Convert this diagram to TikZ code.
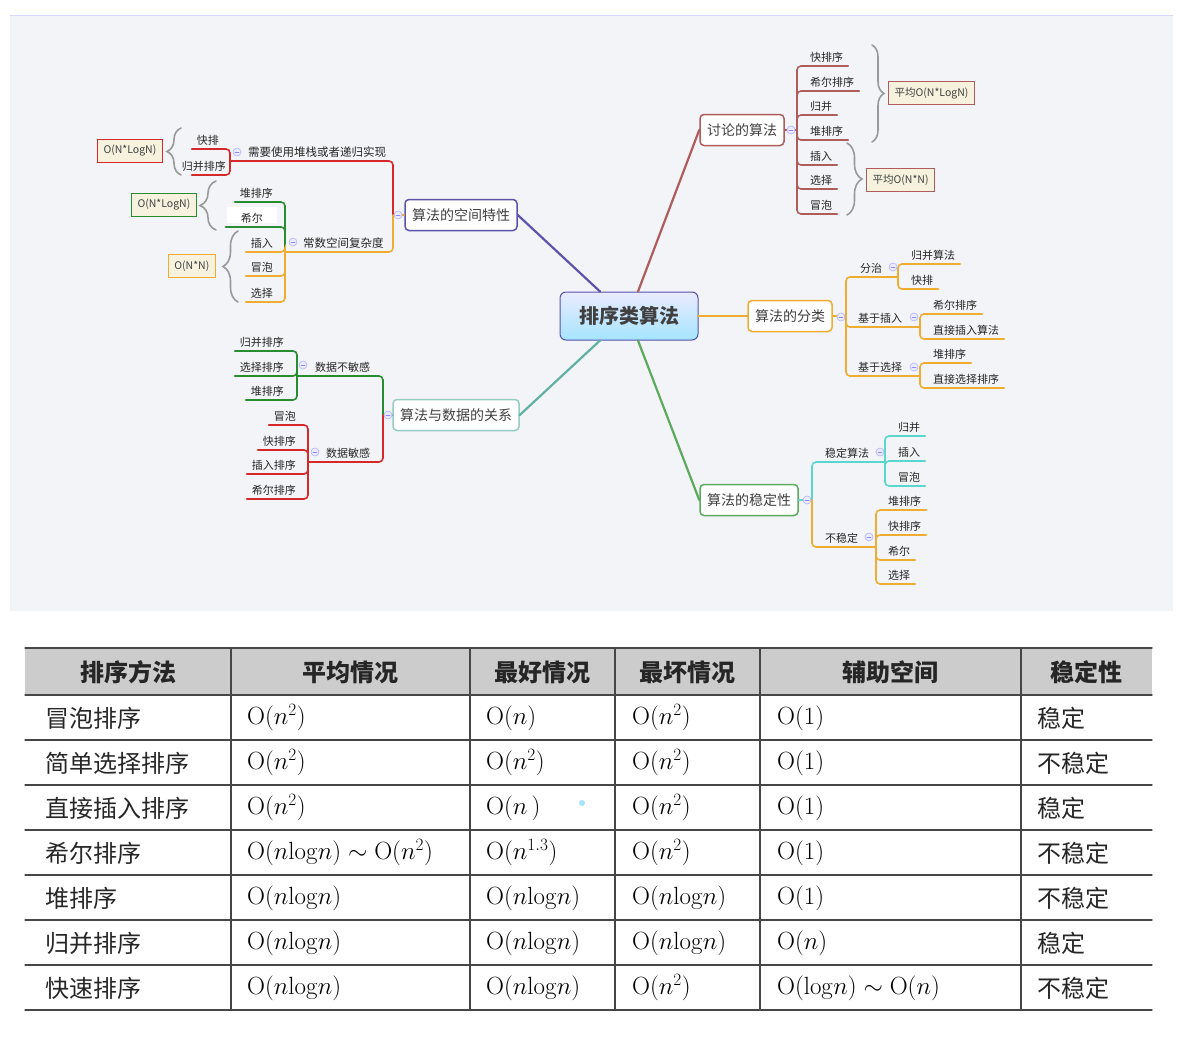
\documentclass[tikz,border=0pt]{standalone}
\usepackage[no-math]{fontspec}
\setmainfont{Noto Sans CJK SC}
\newfontfamily\cjk{Noto Sans CJK SC}
\usetikzlibrary{positioning,decorations.pathreplacing}
\definecolor{bgc}{RGB}{243,244,248}
\definecolor{brn}{RGB}{176,92,92}
\definecolor{purp}{RGB}{92,84,172}
\definecolor{mred}{RGB}{214,40,40}
\definecolor{morg}{RGB}{240,172,48}
\definecolor{dgrn}{RGB}{40,140,48}
\definecolor{tealA}{RGB}{96,176,164}
\definecolor{tealB}{RGB}{150,205,195}
\definecolor{lgrn}{RGB}{92,170,92}
\definecolor{cyn}{RGB}{90,215,205}
\definecolor{beige}{RGB}{246,242,222}
\definecolor{hdr}{RGB}{204,204,204}
\definecolor{grid}{RGB}{70,70,70}
\newcommand\OO{\mathrm{O}}
\tikzset{
  rootbox/.style={draw=blue!35!gray, rounded corners=6pt, line width=1pt, top color=blue!8, bottom color=blue!30!cyan!35, minimum width=138pt, minimum height=48pt, font=\cjk\bfseries\fontsize{20}{20}\selectfont, text=black!75},
  topic/.style={draw, rounded corners=4pt, line width=1.5pt, fill=white, font=\cjk\fontsize{14}{14}\selectfont, text=black!75, minimum height=31pt, inner xsep=7pt},
  leaf/.style={font=\cjk\fontsize{11}{11}\selectfont, text=black!85, inner xsep=0pt, inner ysep=3.5pt, text height=9pt, text depth=1pt},
  sub/.style={leaf, font=\cjk\fontsize{11.5}{12}\selectfont},
  note/.style={draw, line width=1.3pt, fill=beige, font=\cjk\fontsize{10.5}{11}\selectfont, text=black!75, inner xsep=6pt, inner ysep=2pt, minimum height=23pt},
  fold/.style={circle, draw=blue!30, fill=blue!8, line width=0.6pt, minimum size=8pt, inner sep=0pt, path picture={\draw[blue!45, line width=0.8pt] ([xshift=-2pt]path picture bounding box.center) -- ([xshift=2pt]path picture bounding box.center);}},
  br/.style={rounded corners=4pt, line width=1.6pt},
  brc/.style={decorate, decoration={brace, amplitude=#1}, draw=gray!80, line width=1.6pt},
  cell/.style={anchor=west, inner sep=0pt, font=\fontsize{25}{25}\selectfont},
  zh/.style={anchor=west, inner sep=0pt, font=\cjk\fontsize{24}{24}\selectfont, text=black!85},
  th/.style={inner sep=0pt, font=\cjk\bfseries\fontsize{24}{24}\selectfont, text=black!85}
}
\begin{document}
\begin{tikzpicture}[x=1pt, y=-1pt, line cap=round]
\useasboundingbox (0,0) rectangle (1179,1044);
% 思维导图背景
\fill[bgc] (10,15) rectangle (1173,611);
\draw[blue!15, line width=0.8pt] (10,15) -- (1173,15);

% 中心主题与一级分支
\node[rootbox] (root) at (629,316) {排序类算法};
\node[topic, draw=brn] (talg) at (742,130) {讨论的算法};
\node[topic, draw=purp] (space) at (461,215) {算法的空间特性};
\node[topic, draw=tealB] (rel) at (456,415) {算法与数据的关系};
\node[topic, draw=morg] (cls) at (790,316) {算法的分类};
\node[topic, draw=lgrn] (stb) at (749,500) {算法的稳定性};

\draw[brn, line width=2.2pt] ([xshift=9pt]root.north) -- (talg.west);
\draw[purp, line width=2.2pt] ([xshift=-29pt]root.north) -- (space.east);
\draw[tealA, line width=2.2pt] ([xshift=-29pt]root.south) -- (rel.east);
\draw[lgrn, line width=2.2pt] ([xshift=9pt]root.south) -- (stb.west);
\draw[morg, line width=2.6pt] (root.east) -- (cls.west);

% 分叉点
\coordinate (jtl) at (797,130);
\coordinate (jsp) at (393,215);
\coordinate (jrq) at (230,161);
\coordinate (jcs) at (285,252);
\coordinate (jrl) at (383,415);
\coordinate (jbm) at (297,376);
\coordinate (jmg) at (308,462);
\coordinate (jcl) at (846,316);
\coordinate (jfz) at (898,277);
\coordinate (jcr) at (920,327);
\coordinate (jxz) at (920,376);
\coordinate (jst) at (812,500);
\coordinate (jwd) at (885,462);
\coordinate (jbw) at (876,547);

% 讨论的算法
\draw[br, brn] (talg.east) -- (jtl);
\foreach \t/\y [count=\i] in {快排序/66, 希尔排序/91, 归并/115, 堆排序/140, 插入/165, 选择/189, 冒泡/214} {
  \node[leaf, anchor=south west] (tl\i) at (810,\y) {\t};
  \draw[br, brn] (jtl) |- ([xshift=5pt]tl\i.south east);
}
\draw[brc=12pt] (872,45) -- (872,142);
\node[note, draw=brn, anchor=west] (avg1) at (888,93) {平均O(N*LogN)};
\draw[brc=15pt] (847,143) -- (847,215);
\node[note, draw=brn, anchor=west] (avg2) at (866,180) {平均O(N*N)};

% 算法的空间特性
\draw[br, morg] (space.west) -- (jsp);
\draw[br, mred] (jsp) |- (jrq);
\draw[br, morg] (jsp) |- (jcs);
\node[sub, anchor=south west] (stk) at (248,161) {需要使用堆栈或者递归实现};
\node[sub, anchor=south west] (cst) at (303,252) {常数空间复杂度};
\foreach \t/\x/\y/\e [count=\i] in {快排/219/149/-5, 归并排序/226/175/10} {
  \node[leaf, anchor=south east] (sr\i) at (\x,\y) {\t};
  \draw[br, mred] (jrq) |- ([xshift=\e pt]sr\i.south west);
}
\draw[brc=14pt] (181,175) -- (181,128);
\node[note, draw=mred, anchor=east] (cx1) at (163,151) {O(N*LogN)};
\fill[white] (227,207) rectangle (277,223);
\foreach \t/\x/\y/\e/\c [count=\i] in {堆排序/273/202/-5/dgrn, 希尔/263/227/-15/dgrn, 插入/273/252/-5/morg, 冒泡/273/276/-5/morg, 选择/273/302/-5/morg} {
  \node[leaf, anchor=south east] (cs\i) at (\x,\y) {\t};
  \draw[br, \c] (jcs) |- ([xshift=\e pt]cs\i.south west);
}
\draw[brc=16pt] (216,230) -- (216,181);
\node[note, draw=dgrn, anchor=east] (cx2) at (197,205) {O(N*LogN)};
\draw[brc=15pt] (238,302) -- (238,231);
\node[note, draw=morg, anchor=east] (cx3) at (216,266) {O(N*N)};

% 算法与数据的关系
\draw[br, tealA] (rel.west) -- (jrl);
\draw[br, dgrn] (jrl) |- (jbm);
\draw[br, mred] (jrl) |- (jmg);
\node[leaf, anchor=south west] (bmg) at (315,376) {数据不敏感};
\node[leaf, anchor=south west] (mg) at (326,462) {数据敏感};
\foreach \t/\y [count=\i] in {归并排序/351, 选择排序/376, 堆排序/400} {
  \node[leaf, anchor=south east] (bm\i) at (284,\y) {\t};
  \draw[br, dgrn] (jbm) |- ([xshift=-5pt]bm\i.south west);
}
\foreach \t/\y [count=\i] in {冒泡/425, 快排序/450, 插入排序/474, 希尔排序/499} {
  \node[leaf, anchor=south east] (mg\i) at (296,\y) {\t};
  \draw[br, mred] (jmg) |- ([xshift=-5pt]mg\i.south west);
}

% 算法的分类
\draw[br, morg] (cls.east) -- (jcl);
\draw[br, morg] (jcl) |- (jfz);
\draw[br, morg] (jcl) |- (jcr);
\draw[br, morg] (jcl) |- (jxz);
\node[leaf, anchor=south west] (fz) at (860,277) {分治};
\node[leaf, anchor=south west] (cr) at (858,327) {基于插入};
\node[leaf, anchor=south west] (xz) at (858,376) {基于选择};
\foreach \t/\y [count=\i] in {归并算法/264, 快排/289} {
  \node[leaf, anchor=south west] (fz\i) at (911,\y) {\t};
  \draw[br, morg] (jfz) |- ([xshift=5pt]fz\i.south east);
}
\foreach \t/\y [count=\i] in {希尔排序/314, 直接插入算法/339} {
  \node[leaf, anchor=south west] (cr\i) at (933,\y) {\t};
  \draw[br, morg] (jcr) |- ([xshift=5pt]cr\i.south east);
}
\foreach \t/\y [count=\i] in {堆排序/363, 直接选择排序/388} {
  \node[leaf, anchor=south west] (xz\i) at (933,\y) {\t};
  \draw[br, morg] (jxz) |- ([xshift=5pt]xz\i.south east);
}

% 算法的稳定性
\draw[br, cyn] (stb.east) -- (jst);
\draw[br, cyn] (jst) |- (jwd);
\draw[br, morg] (jst) |- (jbw);
\node[leaf, anchor=south west] (wd) at (825,462) {稳定算法};
\node[leaf, anchor=south west] (bw) at (825,547) {不稳定};
\foreach \t/\y [count=\i] in {归并/436, 插入/461, 冒泡/486} {
  \node[leaf, anchor=south west] (wd\i) at (898,\y) {\t};
  \draw[br, cyn] (jwd) |- ([xshift=5pt]wd\i.south east);
}
\foreach \t/\y [count=\i] in {堆排序/510, 快排序/535, 希尔/560, 选择/584} {
  \node[leaf, anchor=south west] (bw\i) at (888,\y) {\t};
  \draw[br, morg] (jbw) |- ([xshift=5pt]bw\i.south east);
}

% 折叠按钮
\foreach \p [count=\i] in {(791,130), (398,215), (237,152), (293,242), (388,415), (303,365), (315,452), (841,317), (893,267), (914,317), (914,367), (807,500), (880,452), (869,537)}
  \node[fold] (f\i) at \p {};

% 表格
\fill[hdr] (25,648) rectangle (1152,695);
\foreach \y in {648,695,740,785,830,875,920,965,1010}
  \draw[grid, line width=1.3pt] (25,\y) -- (1152,\y);
\foreach \x in {231,470,615,760,1021}
  \draw[grid, line width=1.2pt] (\x,648) -- (\x,1010);
\foreach \t/\x [count=\i] in {排序方法/128, 平均情况/350, 最好情况/542, 最坏情况/687, 辅助空间/890, 稳定性/1086}
  \node[th] (h\i) at (\x,672) {\t};
\foreach \a/\b/\c/\d/\e/\f [count=\i, evaluate=\i as \yy using 673+45*\i] in {
  冒泡排序/{$\OO(n^2)$}/{$\OO(n)$}/{$\OO(n^2)$}/{$\OO(1)$}/稳定,
  简单选择排序/{$\OO(n^2)$}/{$\OO(n^2)$}/{$\OO(n^2)$}/{$\OO(1)$}/不稳定,
  直接插入排序/{$\OO(n^2)$}/{$\OO(n\,)$}/{$\OO(n^2)$}/{$\OO(1)$}/稳定,
  希尔排序/{$\OO(n\mathrm{log}n)\sim\OO(n^2)$}/{$\OO(n^{1.3})$}/{$\OO(n^2)$}/{$\OO(1)$}/不稳定,
  堆排序/{$\OO(n\mathrm{log}n)$}/{$\OO(n\mathrm{log}n)$}/{$\OO(n\mathrm{log}n)$}/{$\OO(1)$}/不稳定,
  归并排序/{$\OO(n\mathrm{log}n)$}/{$\OO(n\mathrm{log}n)$}/{$\OO(n\mathrm{log}n)$}/{$\OO(n)$}/稳定,
  快速排序/{$\OO(n\mathrm{log}n)$}/{$\OO(n\mathrm{log}n)$}/{$\OO(n^2)$}/{$\OO(\mathrm{log}n)\sim\OO(n)$}/不稳定} {
  \node[zh] (c\i a) at (45,\yy) {\a};
  \node[cell] (c\i b) at (247,\yy) {\b};
  \node[cell] (c\i c) at (486,\yy) {\c};
  \node[cell] (c\i d) at (632,\yy) {\d};
  \node[cell] (c\i e) at (777,\yy) {\e};
  \node[zh] (c\i f) at (1037,\yy) {\f};
}
\fill[cyan!35] (582,803) circle (3pt);
\end{tikzpicture}
\end{document}
